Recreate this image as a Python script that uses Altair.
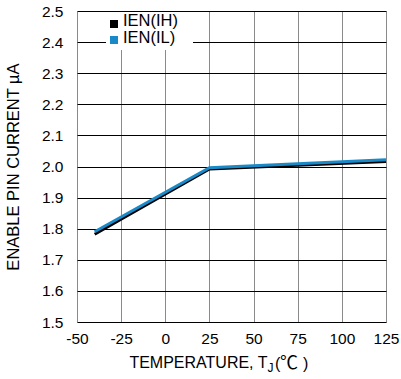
import altair as alt
import pandas as pd

# Data
temps = [-40, 25, 125]
ien_ih = [1.782, 1.992, 2.016]
ien_il = [1.790, 1.996, 2.022]
series_names = ["IEN(IH)", "IEN(IL)"]
series_colors = ["#000000", "#1a89c7"]

x_ticks = [-50, -25, 0, 25, 50, 75, 100, 125]
y_ticks = [1.5, 1.6, 1.7, 1.8, 1.9, 2.0, 2.1, 2.2, 2.3, 2.4, 2.5]

rows = []
for name, vals in zip(series_names, [ien_ih, ien_il]):
    for t, v in zip(temps, vals):
        rows.append({"temp": t, "current": v, "series": name})
df = pd.DataFrame(rows)

FONT = "Liberation Sans"
W, H = 309, 311

x_enc = alt.X(
    "temp:Q",
    scale=alt.Scale(domain=[-50, 125], nice=False, zero=False),
    axis=alt.Axis(
        values=x_ticks, title=None, grid=True, gridColor="#8a8a8a", gridWidth=1,
        ticks=False, domain=False, labelFontSize=15.5, labelFont=FONT,
        labelColor="#000", labelPadding=9, labelFlush=False,
        labelExpr="'' + datum.value",
    ),
)
y_enc = alt.Y(
    "current:Q",
    scale=alt.Scale(domain=[1.5, 2.5], nice=False, zero=False),
    axis=alt.Axis(
        values=y_ticks, title="ENABLE PIN CURRENT µA", grid=True, gridColor="#000",
        gridWidth=1, ticks=False, domain=False, labelFontSize=15.5, labelFont=FONT,
        labelColor="#000", labelPadding=14, format=".1f", labelFlush=False,
        titleFont=FONT, titleFontSize=16.5, titleFontWeight="normal",
        titleColor="#000", titleX=-64, titleBaseline="middle",
    ),
)

lines = alt.Chart(df).mark_line(strokeWidth=3).encode(
    x=x_enc,
    y=y_enc,
    color=alt.Color(
        "series:N",
        scale=alt.Scale(domain=series_names, range=series_colors),
        legend=None,
    ),
    order=alt.Order("series:N"),
)

# Legend (white box, square swatches, labels)
legend_bg = alt.Chart(pd.DataFrame({"a": [0]})).mark_rect(color="white").encode(
    x=alt.value(29), x2=alt.value(116), y=alt.value(1), y2=alt.value(39)
)
sw1 = alt.Chart(pd.DataFrame({"a": [0]})).mark_rect(color=series_colors[0]).encode(
    x=alt.value(33), x2=alt.value(41), y=alt.value(9), y2=alt.value(17)
)
sw2 = alt.Chart(pd.DataFrame({"a": [0]})).mark_rect(color=series_colors[1]).encode(
    x=alt.value(33), x2=alt.value(41), y=alt.value(25), y2=alt.value(33)
)
lab1 = alt.Chart(pd.DataFrame({"t": [series_names[0]]})).mark_text(
    font=FONT, fontSize=16.5, align="left", baseline="alphabetic", color="#000"
).encode(text="t:N", x=alt.value(46), y=alt.value(15))
lab2 = alt.Chart(pd.DataFrame({"t": [series_names[1]]})).mark_text(
    font=FONT, fontSize=16.5, align="left", baseline="alphabetic", color="#000"
).encode(text="t:N", x=alt.value(46), y=alt.value(32))

title_main = alt.Chart(pd.DataFrame({"t": ["TEMPERATURE, T"]})).mark_text(
    font=FONT, fontSize=16, align="right", baseline="alphabetic", color="#000"
).encode(text="t:N", x=alt.value(190.5), y=alt.value(357))
title_sub = alt.Chart(pd.DataFrame({"t": ["J"]})).mark_text(
    font=FONT, fontSize=12, align="left", baseline="alphabetic", color="#000"
).encode(text="t:N", x=alt.value(190.5), y=alt.value(361))
title_p1 = alt.Chart(pd.DataFrame({"t": ["("]})).mark_text(
    font=FONT, fontSize=16, align="left", baseline="alphabetic", color="#000"
).encode(text="t:N", x=alt.value(198), y=alt.value(358))
title_deg = alt.Chart(pd.DataFrame({"t": ["℃"]})).mark_text(
    font="Noto Sans CJK SC", fontSize=18, align="left", baseline="alphabetic", color="#000"
).encode(text="t:N", x=alt.value(203), y=alt.value(358))
title_p2 = alt.Chart(pd.DataFrame({"t": [")"]})).mark_text(
    font=FONT, fontSize=16, align="left", baseline="alphabetic", color="#000"
).encode(text="t:N", x=alt.value(226), y=alt.value(358))

chart = alt.layer(
    lines, legend_bg, sw1, sw2, lab1, lab2,
    title_main, title_sub, title_p1, title_deg, title_p2,
).properties(
    width=W, height=H,
    padding={"left": 77, "top": 11, "right": 15, "bottom": 57},
    autosize="none",
).configure_view(stroke="#000", strokeWidth=2).configure(background="white")

chart.save("out.html", embed_options={"renderer": "svg", "actions": False})
